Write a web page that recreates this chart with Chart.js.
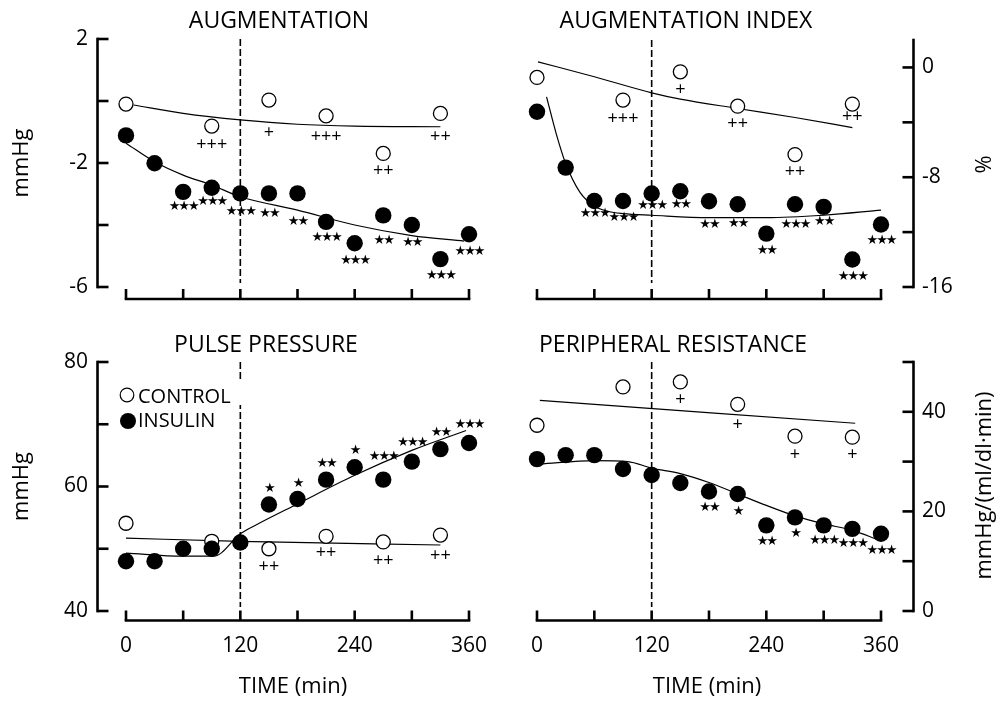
<!DOCTYPE html>
<html>
<head>
<meta charset="utf-8">
<script src="https://cdn.jsdelivr.net/npm/chart.js@4.4.1/dist/chart.umd.min.js"></script>
<style>
  html, body { margin: 0; padding: 0; background: #fff; }
  #figure { position: relative; width: 1001px; height: 702px; }
  #figure canvas { position: absolute; }
</style>
</head>
<body>
<div id="figure">
  <canvas id="augChart" width="500" height="320" style="left:0;top:0"></canvas>
  <canvas id="aiChart" width="501" height="320" style="left:500px;top:0"></canvas>
  <canvas id="ppChart" width="500" height="382" style="left:0;top:320px"></canvas>
  <canvas id="prChart" width="501" height="382" style="left:500px;top:320px"></canvas>
</div>
<script>
// sampling times (min)
const insulinTimes = [0, 30, 60, 90, 120, 150, 180, 210, 240, 270, 300, 330, 360];
const controlTimes = [0, 90, 150, 210, 270, 330];
const infusionStart = 120;
const timeTickLabels = [0, 120, 240, 360];

// AUGMENTATION (mmHg)
const augInsulin = [-1.11, -2.01, -2.93, -2.80, -2.98, -2.98, -2.98, -3.90, -4.59, -3.69, -4.00, -5.10, -4.30];
const augControl = [-0.10, -0.81, 0.03, -0.48, -1.69, -0.40];
const augInsulinFitTimes = [0, 30, 60, 90, 120, 180, 240, 300, 355];
const augInsulinFit = [-1.36, -1.96, -2.39, -2.71, -3.09, -3.52, -4.00, -4.34, -4.52];
const augControlFitTimes = [8, 60, 120, 180, 240, 330];
const augControlFit = [-0.13, -0.40, -0.61, -0.75, -0.81, -0.83];
const augStars = [null, null, '★★★', '★★★', '★★★', '★★', '★★', '★★★', '★★★', '★★', '★★', '★★★', '★★★'];
const augPlus = [null, '+++', '+', '+++', '++', '++'];
const augTickLabels = [2, -2, -6];

// AUGMENTATION INDEX (%)
const aiInsulin = [-3.23, -7.30, -9.73, -9.73, -9.19, -9.02, -9.75, -9.97, -12.11, -9.97, -10.16, -14.00, -11.45];
const aiControl = [-0.73, -2.38, -0.32, -2.82, -6.35, -2.67];
const aiInsulinFitTimes = [10, 20, 30, 45, 60, 75, 90, 120, 180, 240, 300, 360];
const aiInsulinFit = [-2.14, -4.8, -7.0, -9.1, -10.1, -10.5, -10.65, -10.77, -10.95, -10.95, -10.77, -10.4];
const aiControlFitTimes = [1, 60, 120, 150, 210, 270, 330];
const aiControlFit = [0.41, -0.68, -1.85, -2.31, -2.99, -3.65, -4.38];
const aiStars = [null, null, '★★★', '★★★', '★★★', '★★', '★★', '★★', '★★', '★★★', '★★', '★★★', '★★★'];
const aiPlus = [null, '+++', '+', '++', '++', '++'];
const aiTickLabels = [0, -8, -16];

// PULSE PRESSURE (mmHg)
const ppInsulin = [48.0, 48.0, 50.0, 50.0, 51.0, 57.1, 58.0, 61.1, 63.1, 61.1, 64.0, 66.0, 67.0];
const ppControl = [54.1, 51.2, 50.0, 52.0, 51.1, 52.2];
const ppInsulinFitTimes = [0, 60, 92, 120, 135, 180, 240, 300, 357];
const ppInsulinFit = [49.3, 48.8, 48.8, 52.4, 53.7, 57.2, 61.8, 65.8, 69.0];
const ppControlFitTimes = [0, 120, 330];
const ppControlFit = [51.7, 51.2, 50.6];
const ppStars = [null, null, null, null, null, '★', '★', '★★', '★', '★★★', '★★★', '★★', '★★★'];
const ppPlus = [null, null, '++', '++', '++', '++'];
const ppTickLabels = [40, 60, 80];

// PERIPHERAL RESISTANCE (mmHg/(ml/dl·min))
const prInsulin = [30.5, 31.3, 31.3, 28.5, 27.3, 25.7, 24.0, 23.5, 17.2, 18.8, 17.2, 16.5, 15.5];
const prControl = [37.3, 45.0, 46.0, 41.5, 35.1, 34.9];
const prInsulinFitTimes = [3, 60, 95, 120, 150, 180, 210, 240, 270, 300, 330, 357];
const prInsulinFit = [29.5, 30.2, 30.0, 28.7, 27.6, 25.8, 23.5, 21.2, 19.1, 17.5, 16.2, 14.3];
const prControlFitTimes = [3, 333];
const prControlFit = [42.3, 37.7];
const prStars = [null, null, null, null, null, null, '★★', '★', '★★', '★', '★★★', '★★★', '★★★'];
const prPlus = [null, null, '+', '+', '+', '+'];
const prTickLabels = [0, 20, 40];

// vertical nudges (px) of the significance marks from their points
const augStarDy = [0, 0, 15, 14, 18, 20, 28, 16, 17, 25, 18, 17, 17];
const augPlusDy = [0, 19, 33, 21, 17, 23];
const aiStarDy = [0, 0, 13, 17, 12, 13, 23, 19, 17, 20, 15, 17, 16];
const aiPlusDy = [0, 19, 18, 18, 17, 13];
const ppStarDy = [0, 0, 0, 0, 0, -16, -15, -16, -17, -23, -19, -17, -18];
const ppPlusDy = [0, 0, 18, 17, 19, 21];
const prStarDy = [0, 0, 0, 0, 0, 0, 16, 18, 16, 16, 15, 15, 17];
const prPlusDy = [0, 0, 18, 21, 19, 18];

const FONT = '"Open Sans", "Noto Sans", sans-serif';

const toPoints = (xs, ys) => xs.map((x, i) => ({x: x, y: ys[i]}));

function fitLine(xs, ys) {
  return {
    type: 'line',
    data: toPoints(xs, ys),
    borderColor: '#000',
    borderWidth: 1.2,
    pointRadius: 0,
    fill: false,
    cubicInterpolationMode: 'monotone',
    clip: false,
    order: 2
  };
}

function dots(xs, ys, filled) {
  return {
    data: toPoints(xs, ys),
    showLine: false,
    pointRadius: filled ? 8.2 : 7,
    pointBorderWidth: filled ? 0 : 1.3,
    pointBackgroundColor: filled ? '#000' : '#fff',
    pointBorderColor: '#000',
    clip: false,
    order: filled ? 0 : 1
  };
}

function drawMarks(ctx, chart, times, values, marks, dys, font, spacing) {
  const {x, y} = chart.scales;
  ctx.font = font;
  ctx.letterSpacing = spacing;
  ctx.textAlign = 'center';
  ctx.textBaseline = 'middle';
  marks.forEach((m, i) => {
    if (!m) return;
    ctx.fillText(m, x.getPixelForValue(times[i]), y.getPixelForValue(values[i]) + dys[i]);
  });
  ctx.letterSpacing = '0px';
}

// axes, titles, dashed infusion line, significance marks and legend
function decorations(p) {
  return {
    id: 'decor',
    beforeDatasetsDraw(chart) {
      const {ctx, scales: {x, y}} = chart;
      const px = x.getPixelForValue(infusionStart);
      ctx.save();
      ctx.strokeStyle = '#000';
      ctx.lineWidth = 1.6;
      ctx.setLineDash([7, 3]);
      ctx.beginPath();
      ctx.moveTo(px, y.getPixelForValue(y.max));
      ctx.lineTo(px, y.getPixelForValue(y.min) - 4);
      ctx.stroke();
      ctx.restore();
    },
    afterDatasetsDraw(chart) {
      const {ctx, chartArea: area, scales: {x, y}} = chart;
      ctx.save();
      ctx.fillStyle = '#000';
      drawMarks(ctx, chart, insulinTimes, p.insulin, p.stars, p.starDy, '13px "DejaVu Sans"', '-2px');
      drawMarks(ctx, chart, controlTimes, p.control, p.plus, p.plusDy, '18px ' + FONT, '0px');

      // y axis with inward ticks
      ctx.strokeStyle = '#000';
      ctx.lineWidth = 2.6;
      const left = p.yPos === 'left';
      const ax = left ? area.left - 28.5 : area.right + 32.5;
      const dir = left ? 1 : -1;
      ctx.lineCap = 'square';
      ctx.beginPath();
      ctx.moveTo(ax, y.getPixelForValue(y.max));
      ctx.lineTo(ax, y.getPixelForValue(y.min));
      ctx.stroke();
      ctx.lineCap = 'butt';
      y.ticks.forEach(t => {
        const py = y.getPixelForValue(t.value);
        ctx.beginPath();
        ctx.moveTo(ax, py);
        ctx.lineTo(ax + dir * 11, py);
        ctx.stroke();
      });

      // detached time axis, ticks pointing up
      const ay = area.bottom + p.xGap;
      ctx.lineCap = 'square';
      ctx.beginPath();
      ctx.moveTo(x.getPixelForValue(x.min), ay);
      ctx.lineTo(x.getPixelForValue(x.max), ay);
      ctx.stroke();
      ctx.lineCap = 'butt';
      x.ticks.forEach(t => {
        const px = x.getPixelForValue(t.value);
        ctx.beginPath();
        ctx.moveTo(px, ay);
        ctx.lineTo(px, ay - 10);
        ctx.stroke();
      });

      // panel title
      ctx.font = '23px ' + FONT;
      ctx.textAlign = 'center';
      ctx.textBaseline = 'alphabetic';
      ctx.fillText(p.title, p.titleX, p.titleY);

      // x axis title
      if (p.showTime) {
        ctx.font = '22px ' + FONT;
        ctx.fillText('TIME (min)', p.timeX, 373);
      }

      // y axis title, reading upwards
      ctx.save();
      ctx.translate(p.yTitleX, (area.top + area.bottom) / 2 + p.yTitleDy);
      ctx.rotate(-Math.PI / 2);
      ctx.font = '22px ' + FONT;
      ctx.textAlign = 'center';
      ctx.fillText(p.yTitle, 0, 0);
      ctx.restore();

      if (p.legend) {
        const lx = area.left;
        const ly = area.top;
        ctx.fillStyle = '#fff';
        ctx.fillRect(lx + 12, ly + 20, 106, 23);
        ctx.lineWidth = 1.2;
        ctx.beginPath();
        ctx.arc(lx + 1, ly + 33, 6.8, 0, Math.PI * 2);
        ctx.fill();
        ctx.stroke();
        ctx.fillStyle = '#000';
        ctx.beginPath();
        ctx.arc(lx + 2, ly + 59, 8, 0, Math.PI * 2);
        ctx.fill();
        ctx.font = '20px ' + FONT;
        ctx.textAlign = 'left';
        ctx.fillText('CONTROL', lx + 12, ly + 41);
        ctx.fillText('INSULIN', lx + 12, ly + 65);
      }
      ctx.restore();
    }
  };
}

function buildPanel(id, p) {
  new Chart(document.getElementById(id), {
    type: 'scatter',
    data: {
      datasets: [
        fitLine(p.insulinFitTimes, p.insulinFit),
        fitLine(p.controlFitTimes, p.controlFit),
        dots(insulinTimes, p.insulin, true),
        dots(controlTimes, p.control, false)
      ]
    },
    options: {
      responsive: false,
      animation: false,
      events: [],
      layout: {padding: p.padding},
      plugins: {legend: {display: false}, tooltip: {enabled: false}},
      scales: {
        x: {
          type: 'linear',
          position: 'bottom',
          min: 0,
          max: 360,
          grid: {display: false, drawTicks: false},
          border: {display: false},
          ticks: {
            display: p.showTime,
            stepSize: 60,
            autoSkip: false,
            maxRotation: 0,
            padding: 22,
            color: '#000',
            font: {family: FONT, size: 21},
            callback: v => timeTickLabels.includes(v) ? String(v) : ''
          },
          afterFit: s => { s.height = p.xHeight; s.paddingLeft = 0; s.paddingRight = 0; }
        },
        y: {
          type: 'linear',
          position: p.yPos,
          min: p.yMin,
          max: p.yMax,
          grid: {display: false, drawTicks: false},
          border: {display: false},
          ticks: {
            stepSize: p.yStep,
            includeBounds: false,
            padding: p.yTickPad,
            color: '#000',
            font: {family: FONT, size: 21},
            callback: v => p.yLabels.includes(v) ? String(v) : ''
          },
          afterFit: s => { s.width = p.yWidth; s.paddingTop = 0; s.paddingBottom = 0; }
        }
      }
    },
    plugins: [decorations(p)]
  });
}

buildPanel('augChart', {
  title: 'AUGMENTATION', titleX: 279, titleY: 28,
  yTitle: 'mmHg', yTitleX: 28, yTitleDy: 0,
  insulin: augInsulin, control: augControl,
  insulinFitTimes: augInsulinFitTimes, insulinFit: augInsulinFit,
  controlFitTimes: augControlFitTimes, controlFit: augControlFit,
  stars: augStars, plus: augPlus, starDy: augStarDy, plusDy: augPlusDy,
  yMin: -6, yMax: 2, yStep: 2, yLabels: augTickLabels,
  yPos: 'left', yWidth: 126, yTickPad: 38,
  padding: {left: 0, right: 31, top: 39, bottom: 0}, xHeight: 33, xGap: 12,
  showTime: false
});

buildPanel('aiChart', {
  title: 'AUGMENTATION INDEX', titleX: 186, titleY: 28,
  yTitle: '%', yTitleX: 490.5, yTitleDy: 1,
  insulin: aiInsulin, control: aiControl,
  insulinFitTimes: aiInsulinFitTimes, insulinFit: aiInsulinFit,
  controlFitTimes: aiControlFitTimes, controlFit: aiControlFit,
  stars: aiStars, plus: aiPlus, starDy: aiStarDy, plusDy: aiPlusDy,
  yMin: -16, yMax: 2, yStep: 4, yLabels: aiTickLabels,
  yPos: 'right', yWidth: 120, yTickPad: 41,
  padding: {left: 37, right: 0, top: 40, bottom: 0}, xHeight: 33, xGap: 12,
  showTime: false
});

buildPanel('ppChart', {
  title: 'PULSE PRESSURE', titleX: 266, titleY: 32,
  yTitle: 'mmHg', yTitleX: 28, yTitleDy: 0,
  insulin: ppInsulin, control: ppControl,
  insulinFitTimes: ppInsulinFitTimes, insulinFit: ppInsulinFit,
  controlFitTimes: ppControlFitTimes, controlFit: ppControlFit,
  stars: ppStars, plus: ppPlus, starDy: ppStarDy, plusDy: ppPlusDy,
  yMin: 40, yMax: 80, yStep: 10, yLabels: ppTickLabels,
  yPos: 'left', yWidth: 126, yTickPad: 38,
  padding: {left: 0, right: 31, top: 42, bottom: 0}, xHeight: 91, xGap: 9.5,
  showTime: true, timeX: 293, legend: true
});

buildPanel('prChart', {
  title: 'PERIPHERAL RESISTANCE', titleX: 173, titleY: 32,
  yTitle: 'mmHg/(ml/dl·min)', yTitleX: 490.5, yTitleDy: -1,
  insulin: prInsulin, control: prControl,
  insulinFitTimes: prInsulinFitTimes, insulinFit: prInsulinFit,
  controlFitTimes: prControlFitTimes, controlFit: prControlFit,
  stars: prStars, plus: prPlus, starDy: prStarDy, plusDy: prPlusDy,
  yMin: 0, yMax: 50, yStep: 10, yLabels: prTickLabels,
  yPos: 'right', yWidth: 120, yTickPad: 41,
  padding: {left: 37, right: 0, top: 42, bottom: 0}, xHeight: 91, xGap: 9.5,
  showTime: true, timeX: 207
});
</script>
</body>
</html>
